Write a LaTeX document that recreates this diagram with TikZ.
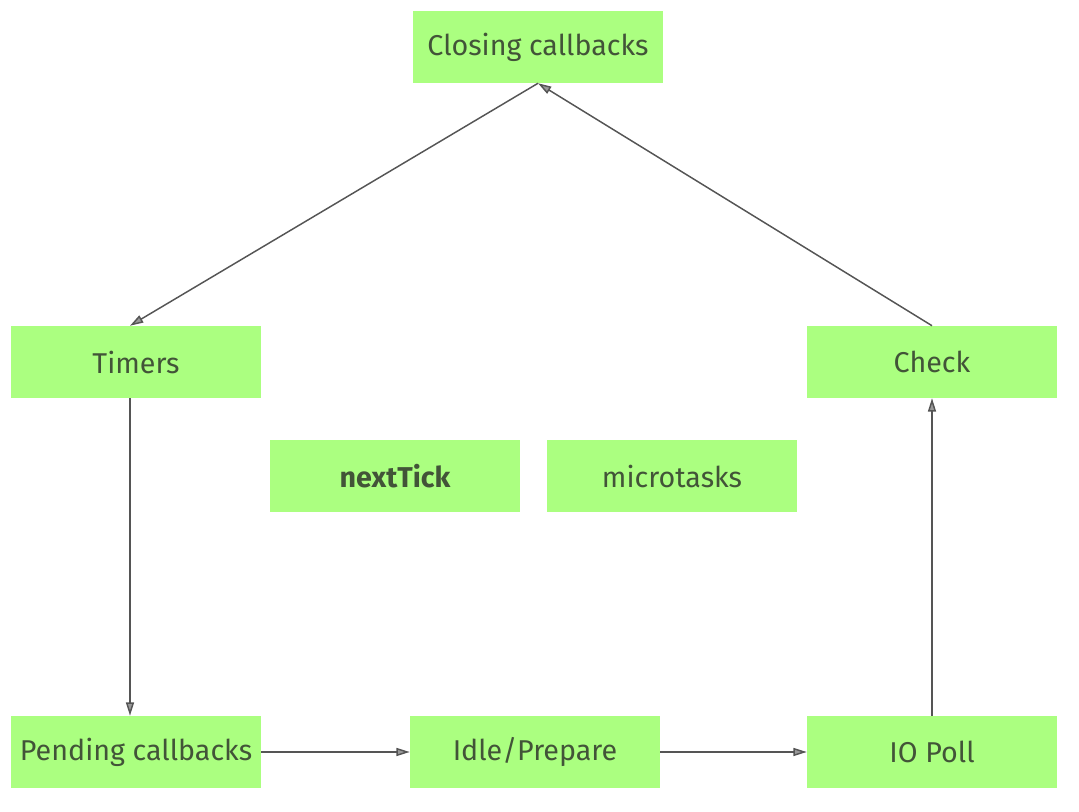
\documentclass[tikz,border=0pt]{standalone}
\usepackage{fontspec}
\setmainfont{Fira Sans}
\usetikzlibrary{arrows.meta, positioning}

\definecolor{phasegreen}{RGB}{171,255,128}
\definecolor{phasetext}{RGB}{66,84,56}
\definecolor{loopline}{RGB}{85,85,85}

\tikzset{
  phase/.style={fill=phasegreen, text=phasetext, minimum width=187.5pt,
    minimum height=54pt, inner sep=0pt, font=\fontsize{21.5}{24}\selectfont},
  flow/.style={draw=loopline, line width=1.1pt,
    -{Triangle[open, length=10pt, width=6pt, fill=loopline!60]}}
}

\begin{document}
\begin{tikzpicture}[x=0.75pt, y=-0.75pt]
  \useasboundingbox (0,0) rectangle (1079,812);

  \node[phase] (close) at (538,47) {Closing callbacks};
  \node[phase] (timers) at (136,362) {Timers};
  \node[phase] (check) at (932,362) {Check};

  \node[phase, font=\fontsize{21.5}{24}\selectfont\bfseries] (tick) at (395,476) {nextTick};
  \node[phase] (micro) at (672,476) {microtasks};

  \node[phase] (pending) at (136,752) {Pending callbacks};
  \node[phase] (idle) at (535,752) {Idle/Prepare};
  \node[phase] (poll) at (932,752) {IO Poll};

  \draw[flow] (close.south) -- ([xshift=-4.5pt]timers.north);
  \draw[flow] ([xshift=-4.5pt]timers.south) -- ([xshift=-4.5pt]pending.north);
  \draw[flow] (pending) -- (idle);
  \draw[flow] (idle) -- (poll);
  \draw[flow] (poll) -- (check);
  \draw[flow] (check.north) -- (close.south);
\end{tikzpicture}
\end{document}
